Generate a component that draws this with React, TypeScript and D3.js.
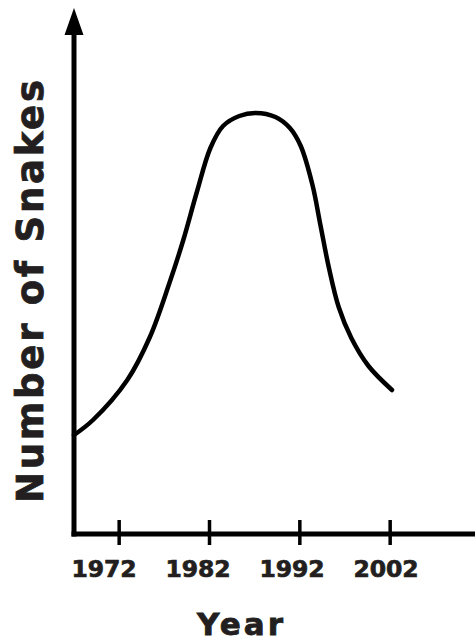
import React from "react";
import * as d3 from "d3";

const W = 475;
const H = 643;

// Curve readings (year, relative number of snakes)
const years = [1967, 1969.1, 1972.9, 1975.4, 1977.6, 1979.1, 1980.6, 1982.1, 1983.5, 1985.3, 1987.1, 1989.3, 1990.9, 1992.1, 1993.4, 1994.3, 1995.2, 1996.3, 1997.7, 1999.6, 2002.2];
const snakes = [19.8, 22.8, 30.8, 39.4, 50.4, 58.8, 68.4, 77.2, 81.6, 83.6, 84.2, 83.4, 81.2, 77.6, 69.8, 61.6, 53.4, 45.4, 39.2, 33.6, 28.8];

const tickYears = [1972, 1982, 1992, 2002];
const tickLabels = ["1972", "1982", "1992", "2002"];

const xTitle = "Year";
const yTitle = "Number of Snakes";

export default function App() {
  const x = d3.scaleLinear().domain([1967, 2012]).range([74, 480.5]);
  const y = d3.scaleLinear().domain([0, 100]).range([534, 34]);
  const labelX = d3.scaleLinear().domain([1972, 2002]).range([104, 386]);

  const pts: [number, number][] = years.map((yr, i) => [yr, snakes[i]]);
  const line = d3
    .line<[number, number]>()
    .x((d) => x(d[0]))
    .y((d) => y(d[1]))
    .curve(d3.curveCatmullRom.alpha(0.5));

  const axisX = x(1967);
  const axisY = y(0);
  const arrowTip = 8;
  const arrowBase = 35;
  const font = "'DejaVu Sans', Verdana, sans-serif";
  const textColor = "#231f20";

  return (
    <svg
      width={W}
      height={H}
      viewBox={`0 0 ${W} ${H}`}
      style={{ position: "absolute", left: 0, top: 0, display: "block", background: "#fff" }}
    >
      <rect x={0} y={0} width={W} height={H} fill="#fff" />
      {/* y axis */}
      <line x1={axisX} x2={axisX} y1={axisY + 2.5} y2={arrowBase - 2} stroke="#000" strokeWidth={5} />
      <path
        d={`M${axisX},${arrowTip} L${axisX + 9.5},${arrowBase} L${axisX - 9.5},${arrowBase} Z`}
        fill="#000"
      />
      {/* x axis */}
      <line x1={axisX - 2.5} x2={W + 5} y1={axisY} y2={axisY} stroke="#000" strokeWidth={5} />
      {tickYears.map((t) => (
        <line key={t} x1={x(t)} x2={x(t)} y1={axisY - 14} y2={axisY + 11} stroke="#000" strokeWidth={3.5} />
      ))}
      {tickYears.map((t, i) => (
        <text
          key={"l" + t}
          x={labelX(t)}
          y={577}
          textAnchor="middle"
          fontFamily={font}
          fontWeight="bold"
          fontSize={23.5}
          fill={textColor}
          stroke={textColor}
          strokeWidth={0.7}
          textLength={65}
          lengthAdjust="spacing"
        >
          {tickLabels[i]}
        </text>
      ))}
      {/* curve */}
      <path d={line(pts) || ""} fill="none" stroke="#000" strokeWidth={4.5} strokeLinecap="round" strokeLinejoin="round" />
      {/* titles */}
      <text
        x={240}
        y={635}
        textAnchor="middle"
        fontFamily={font}
        fontWeight="bold"
        fontSize={31}
        fill={textColor}
        stroke={textColor}
        strokeWidth={0.8}
        textLength={86}
        lengthAdjust="spacing"
      >
        {xTitle}
      </text>
      <text
        transform={`translate(43, 291.5) rotate(-90)`}
        textAnchor="middle"
        fontFamily={font}
        fontWeight="bold"
        fontSize={37}
        fill={textColor}
        stroke={textColor}
        strokeWidth={0.8}
        textLength={423}
        lengthAdjust="spacing"
      >
        {yTitle}
      </text>
    </svg>
  );
}
